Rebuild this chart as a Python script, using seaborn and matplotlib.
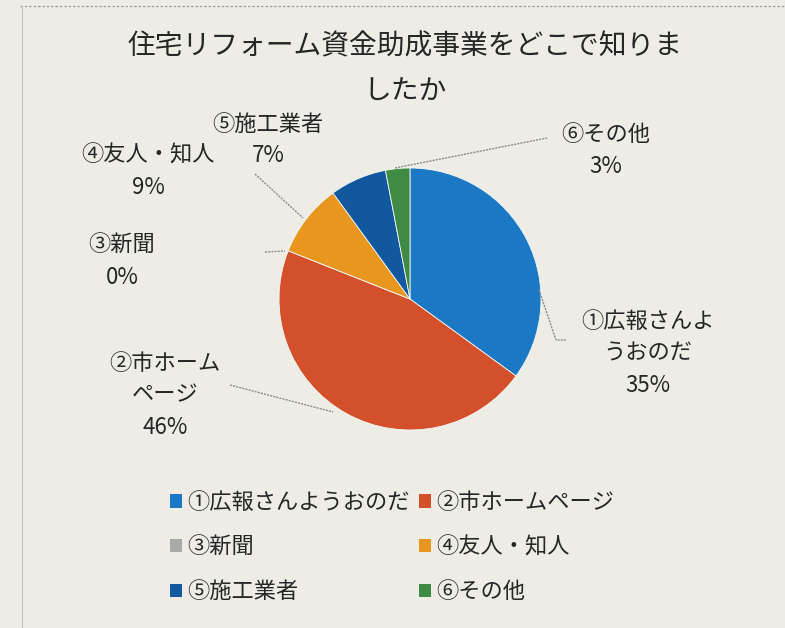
import matplotlib
matplotlib.use("Agg")
import matplotlib.pyplot as plt
from matplotlib.lines import Line2D
from matplotlib.patches import Patch
import seaborn as sns

# Survey: where respondents learned about the housing-renovation subsidy
categories = ["①広報さんようおのだ", "②市ホームページ", "③新聞", "④友人・知人", "⑤施工業者", "⑥その他"]
label_texts = ["①広報さんよ\nうおのだ", "②市ホーム\nページ", "③新聞", "④友人・知人", "⑤施工業者", "⑥その他"]
shares = [35, 46, 0, 9, 7, 3]
colors = ["#1b78c4", "#d4502a", "#a9a9a9", "#e8961e", "#11589f", "#3f8a45"]
title = "住宅リフォーム資金助成事業をどこで知りま\nしたか"

sns.set_theme(style="white")
plt.rcParams["font.family"] = ["Noto Sans CJK JP", "DejaVu Sans"]

W, H = 785, 628
BG = "#eeede5"
INK = "#262626"
fig = plt.figure(figsize=(W / 100, H / 100), dpi=100, facecolor=BG)

def fx(px):
    return px / W

def fy(py):
    return 1 - py / H

# pie centred at (410, 299) px, radius 131 px
cx, cy, r = 410, 299, 131
ax = fig.add_axes([fx(cx - r), fy(cy + r), 2 * r / W, 2 * r / H])
ax.axis("off")
palette = sns.color_palette(colors)
wedges, _ = ax.pie(shares, colors=palette, startangle=90, counterclock=False,
                   radius=1.0, wedgeprops=dict(edgecolor="#f4f6f8", linewidth=0.6))
ax.set_xlim(-1, 1)
ax.set_ylim(-1, 1)

# chart frame
fig.add_artist(Line2D([fx(20), fx(785)], [fy(6), fy(6)], color="#9a9a9a", lw=0.9,
                      ls=(0, (2, 1.5)), transform=fig.transFigure))
fig.add_artist(Line2D([fx(22), fx(22)], [fy(6), fy(628)], color="#c8c8c0", lw=0.8,
                      transform=fig.transFigure))

fig.text(fx(405), fy(69), title, ha="center", va="center", fontsize=20,
         color=INK, linespacing=1.65)

# data labels (px positions) and leader lines
label_pos = [(648, 353), (165, 395), (122, 261), (148, 171), (268, 140), (606, 150)]
leaders = [
    [(539, 290), (556, 340), (566, 340)],
    [(230, 385), (333, 412)],
    [(265, 252), (285, 251)],
    [(255, 174), (303, 218)],
    None,
    [(395, 168), (547, 138)],
]
for txt, v, (px, py), ld in zip(label_texts, shares, label_pos, leaders):
    fig.text(fx(px), fy(py), f"{txt}\n{v}%", ha="center", va="center",
             fontsize=16, color=INK, linespacing=1.5)
    if ld:
        xs = [fx(p[0]) for p in ld]
        ys = [fy(p[1]) for p in ld]
        fig.add_artist(Line2D(xs, ys, color="#8a8a8a", lw=1.0, ls=(0, (1.5, 0.8)),
                              transform=fig.transFigure))

# legend laid out row by row: ①② / ③④ / ⑤⑥
handles = [Patch(facecolor=c, edgecolor="none") for c in palette]
order = [0, 2, 4, 1, 3, 5]
leg = fig.legend([handles[i] for i in order], [categories[i] for i in order],
                 loc="center", bbox_to_anchor=(fx(392), fy(547)), ncol=2,
                 frameon=False, fontsize=16, handlelength=0.55, handleheight=0.55,
                 handletextpad=0.25, columnspacing=0.4, labelspacing=0.98,
                 labelcolor=INK)

fig.savefig("out.png", dpi=100, facecolor=BG)
